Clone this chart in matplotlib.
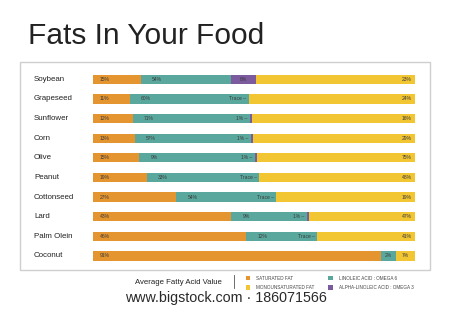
import matplotlib
matplotlib.use("Agg")
import matplotlib.pyplot as plt
from matplotlib.patches import Rectangle
import numpy as np

plt.rcParams['font.family'] = ['Liberation Sans', 'DejaVu Sans']

foods = ["Soybean", "Grapeseed", "Sunflower", "Corn", "Olive",
         "Peanut", "Cottonseed", "Lard", "Palm Olein", "Coconut"]

# segment widths as drawn (share of the bar)
sat_w = [14.9, 11.4, 12.4, 13.0, 14.4, 16.7, 25.8, 42.9, 47.5, 89.3]
lin_w = [28.0, 37.0, 36.4, 36.1, 36.0, 34.9, 31.1, 23.5, 22.1, 4.7]
ala_w = [7.7, 0.0, 0.5, 0.5, 0.6, 0.0, 0.0, 0.7, 0.0, 0.0]
mono_w = [100 - a - b - c for a, b, c in zip(sat_w, lin_w, ala_w)]

# printed values
sat_lab = ["15%", "11%", "12%", "13%", "15%", "19%", "27%", "43%", "46%", "91%"]
lin_lab = ["54%", "60%", "71%", "57%", "9%", "33%", "54%", "9%", "12%", "2%"]
ala_lab = ["8%", "Trace –", "1% –", "1% –", "1% –", "Trace –", "Trace –", "1% –", "Trace –", ""]
mono_lab = ["23%", "24%", "16%", "29%", "75%", "48%", "19%", "47%", "41%", "7%"]

c_sat = "#E5952F"
c_lin = "#5AA89D"
c_ala = "#7C5A9E"
c_mono = "#F2C532"

W, H = 450, 318
fig = plt.figure(figsize=(4.5, 3.18), dpi=100)
fig.patch.set_facecolor("white")

def fx(px):
    return px / W

def fy(py):
    return 1 - py / H

# frame
fig.patches.append(Rectangle((fx(20), fy(270)), fx(430) - fx(20), fy(62) - fy(270),
                             transform=fig.transFigure, fill=False,
                             edgecolor="#cfcfcf", linewidth=1.0))

fig.text(fx(28), fy(44.3), "Fats In Your Food", fontsize=21.5,
         color="#222222", va="baseline", ha="left")

ax = fig.add_axes([fx(93), fy(265.8), fx(415) - fx(93), (265.8 - 69.5) / H])
y = np.arange(len(foods))
h = 0.475
left = np.zeros(len(foods))
for w, c in [(sat_w, c_sat), (lin_w, c_lin), (ala_w, c_ala), (mono_w, c_mono)]:
    ax.barh(y, w, left=left, height=h, color=c, linewidth=0)
    left = left + np.array(w)
ax.set_xlim(0, 100)
ax.set_ylim(len(foods) - 0.5, -0.5)
ax.axis("off")

fs = 3.6
tc = "#3a3a3a"
for i in range(len(foods)):
    ax.text(-18.3, i, foods[i], fontsize=5.7, color="#222222", va="center", ha="left")
    ax.text(2.2, i, sat_lab[i], fontsize=fs, color=tc, va="center", ha="left")
    s = sat_w[i]
    l = lin_w[i]
    if i == len(foods) - 1:
        ax.text(s + l / 2, i, lin_lab[i], fontsize=fs, color=tc, va="center", ha="center")
        ax.text(s + l + mono_w[i] / 2, i, mono_lab[i], fontsize=fs, color=tc,
                va="center", ha="center")
        continue
    ax.text(s + 3.5, i, lin_lab[i], fontsize=fs, color=tc, va="center", ha="left")
    if ala_w[i] > 3:
        ax.text(s + l + ala_w[i] / 2, i, ala_lab[i], fontsize=fs, color=tc,
                va="center", ha="center")
    else:
        ax.text(s + l - 0.8, i, ala_lab[i], fontsize=fs, color=tc, va="center", ha="right")
    ax.text(99, i, mono_lab[i], fontsize=fs, color=tc, va="center", ha="right")

# legend
fig.text(fx(135), fy(282), "Average Fatty Acid Value", fontsize=5.6,
         color="#222222", va="center", ha="left")
fig.add_artist(plt.Line2D([fx(234), fx(234)], [fy(275), fy(288)],
                          transform=fig.transFigure, color="#555555", linewidth=0.6))
leg = [(245.5, 278, c_sat, "SATURATED FAT"),
       (245.5, 287.5, c_mono, "MONOUNSATURATED FAT"),
       (328, 278, c_lin, "LINOLEIC ACID : OMEGA 6"),
       (328, 287.5, c_ala, "ALPHA-LINOLEIC ACID : OMEGA 3")]
for px, py, c, t in leg:
    fig.patches.append(Rectangle((fx(px), fy(py + 2.2)), fx(4.5), 4.5 / H,
                                 transform=fig.transFigure, color=c, linewidth=0))
    fig.text(fx(px + 11), fy(py), t, fontsize=3.3, color="#444444",
             va="center", ha="left")

fig.text(fx(125), fy(298), "www.bigstock.com · 186071566", fontsize=10.3,
         color="#2a2a2a", va="center", ha="left")

fig.savefig("out.png", dpi=100)
